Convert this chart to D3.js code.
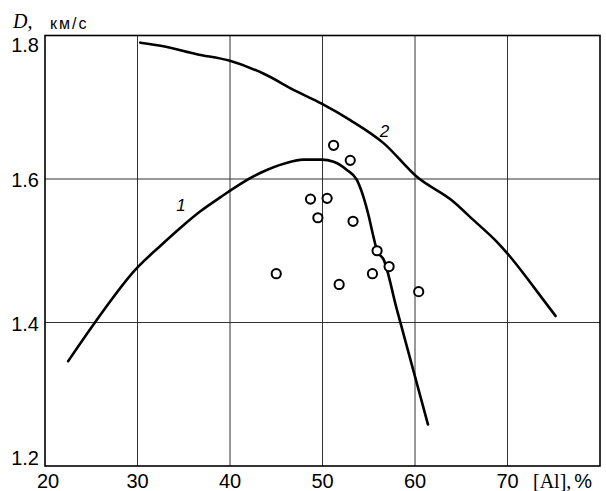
<!DOCTYPE html>
<html>
<head>
<meta charset="utf-8">
<script src="https://cdn.jsdelivr.net/npm/d3@7"></script>
<style>
    body { margin: 0; background: #fff; }
    svg { display: block; }
    .tick-label { font-family: "Liberation Sans", Arial, sans-serif; font-size: 20px; fill: #000; }
    .grid line { stroke: #333; stroke-width: 1; }
    .curve { fill: none; stroke: #000; stroke-width: 2.6; stroke-linejoin: round; stroke-linecap: round; }
    .dot { fill: #fff; stroke: #000; stroke-width: 2; }
    .curve-label { font-family: "Liberation Sans", Arial, sans-serif; font-style: italic; font-size: 17px; }
</style>
</head>
<body>
<div id="chart"></div>
<script>
// ticks
const xTicks = [20, 30, 40, 50, 60, 70];
const yTicks = [1.2, 1.4, 1.6, 1.8];

// curve 1
const curve1X = [22.5, 25.4, 29.8, 32.4, 35.0, 36.8, 38.9, 41.1, 43.2, 46.0, 47.9, 49.9, 51.2, 52.6, 53.7, 54.4, 55.0, 55.5, 55.9, 56.6, 58.0, 61.4];
const curve1Y = [1.346, 1.400, 1.474, 1.506, 1.536, 1.555, 1.574, 1.593, 1.608, 1.622, 1.627, 1.627, 1.624, 1.613, 1.599, 1.576, 1.548, 1.520, 1.500, 1.488, 1.420, 1.258];

// curve 2
const curve2X = [30.3, 32.8, 36.4, 39.9, 43.6, 47.2, 49.9, 53.0, 56.6, 60.2, 64.1, 66.3, 68.8, 70.2, 72.8, 75.2];
const curve2Y = [1.790, 1.785, 1.774, 1.765, 1.747, 1.722, 1.705, 1.682, 1.650, 1.603, 1.569, 1.543, 1.513, 1.493, 1.450, 1.409];

// measured points
const pointsX = [45.0, 48.7, 50.5, 49.5, 51.2, 53.0, 53.3, 51.8, 55.4, 55.9, 57.2, 60.4];
const pointsY = [1.468, 1.572, 1.573, 1.546, 1.647, 1.626, 1.541, 1.453, 1.468, 1.500, 1.478, 1.443];

const width = 606;
const height = 491;

const x = d3.scaleLinear().domain([20, 80]).range([45, 600]);
const y = d3.scaleLinear().domain([1.2, 1.8]).range([466, 35.5]);

const svg = d3.select("#chart").append("svg")
    .attr("width", width)
    .attr("height", height);

// background grid
const grid = svg.append("g").attr("class", "grid");
grid.selectAll(".vx")
    .data(xTicks.slice(1))
    .join("line")
    .attr("x1", d => x(d)).attr("x2", d => x(d))
    .attr("y1", y(1.8)).attr("y2", y(1.2));
grid.selectAll(".hy")
    .data(yTicks.slice(1, -1))
    .join("line")
    .attr("x1", x(20)).attr("x2", x(80))
    .attr("y1", d => y(d)).attr("y2", d => y(d));

// frame
svg.append("rect")
    .attr("x", x(20)).attr("y", y(1.8))
    .attr("width", x(80) - x(20))
    .attr("height", y(1.2) - y(1.8))
    .attr("fill", "none")
    .attr("stroke", "#000")
    .attr("stroke-width", 1.6);

// tick labels (first and last kept inside the frame)
svg.append("g").selectAll("text")
    .data(yTicks)
    .join("text")
    .attr("class", "tick-label")
    .attr("x", 39)
    .attr("y", d => d === 1.8 ? y(d) + 16.5 : d === 1.2 ? y(d) - 1 : y(d) + 8)
    .attr("text-anchor", "end")
    .text(d => d.toFixed(1));

svg.append("g").selectAll("text")
    .data(xTicks)
    .join("text")
    .attr("class", "tick-label")
    .attr("x", d => d === 20 ? x(d) + 3 : x(d))
    .attr("y", 488)
    .attr("text-anchor", "middle")
    .text(d => d);

// axis titles
const xt = svg.append("text")
    .attr("x", 533).attr("y", 488)
    .style("font-size", "20px");
xt.append("tspan").style("font-family", "'Liberation Serif', 'Times New Roman', serif").text("[Al],");
xt.append("tspan").style("font-family", "'Liberation Sans', Arial, sans-serif").attr("dx", 3).text("%");

svg.append("text")
    .attr("x", 13).attr("y", 28)
    .style("font-family", "'Liberation Serif', 'Times New Roman', serif")
    .style("font-style", "italic")
    .style("font-size", "20px")
    .text("D,");
svg.append("text")
    .attr("x", 50).attr("y", 29)
    .style("font-family", "'Liberation Sans', Arial, sans-serif")
    .style("font-size", "16px")
    .style("letter-spacing", "2px")
    .text("км/с");

// curves
const line = d3.line()
    .x(d => x(d[0]))
    .y(d => y(d[1]))
    .curve(d3.curveMonotoneX);

svg.append("path")
    .attr("class", "curve")
    .attr("d", line(d3.zip(curve1X, curve1Y)));
svg.append("path")
    .attr("class", "curve")
    .attr("d", line(d3.zip(curve2X, curve2Y)));

svg.append("text").attr("class", "curve-label")
    .attr("x", x(34.2)).attr("y", y(1.555))
    .text("1");
svg.append("text").attr("class", "curve-label")
    .attr("x", x(56.2)).attr("y", y(1.658))
    .text("2");

// points
svg.append("g").selectAll("circle")
    .data(d3.zip(pointsX, pointsY))
    .join("circle")
    .attr("class", "dot")
    .attr("cx", d => x(d[0]))
    .attr("cy", d => y(d[1]))
    .attr("r", 4.6);
</script>
</body>
</html>
